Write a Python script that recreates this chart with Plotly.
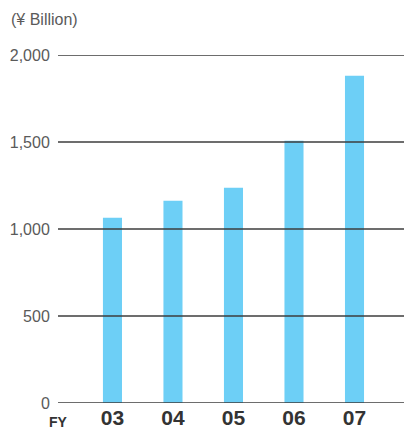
import plotly.graph_objects as go

# Fiscal years and values (¥ billion)
years = ["03", "04", "05", "06", "07"]
values = [1065, 1163, 1237, 1507, 1881]
y_ticks = [0, 500, 1000, 1500, 2000]
y_tick_labels = ["0", "500", "1,000", "1,500", "2,000"]

W, H = 404, 431
left, right, top, bottom = 58, 0, 55, 28

fig = go.Figure()
fig.add_trace(go.Bar(
    x=list(range(len(years))),
    y=values,
    width=0.315,
    marker=dict(color="#6dcff6", line=dict(width=0)),
    hoverinfo="skip",
))

# horizontal rules drawn above the bars, one per y tick
for v in y_ticks:
    fig.add_shape(type="line", xref="paper", yref="y", x0=0, x1=1, y0=v, y1=v,
                  line=dict(color="#3c3c3c", width=1.3), layer="above")

fig.update_layout(
    width=W, height=H,
    margin=dict(l=left, r=right, t=top, b=bottom, pad=0, autoexpand=False),
    paper_bgcolor="white", plot_bgcolor="white",
    showlegend=False,
    xaxis=dict(
        range=[-0.9, 4.818],
        tickmode="array",
        tickvals=list(range(len(years))),
        ticktext=years,
        tickfont=dict(family="Liberation Sans, Arial, sans-serif", size=21,
                      color="#333333", weight="bold"),
        showgrid=False, zeroline=False, showline=False,
        ticks="",
        automargin=False,
        fixedrange=True,
    ),
    yaxis=dict(
        range=[0, 2000],
        tickmode="array",
        tickvals=y_ticks,
        ticktext=y_tick_labels,
        tickfont=dict(family="Liberation Sans, Arial, sans-serif", size=16, color="#5a5a5a"),
        showgrid=False, zeroline=False, showline=False,
        ticks="outside", ticklen=4, tickcolor="rgba(0,0,0,0)",
        automargin=False,
        fixedrange=True,
    ),
    annotations=[
        dict(text="(¥ Billion)", xref="paper", yref="paper",
             x=(9 - left) / (W - left - right), y=1 + 35 / (H - top - bottom),
             xanchor="left", yanchor="middle", showarrow=False,
             font=dict(family="Liberation Sans, Arial, sans-serif", size=16, color="#5a5a5a")),
        dict(text="<b>FY</b>", xref="paper", yref="paper",
             x=0, y=-19 / (H - top - bottom),
             xanchor="center", yanchor="middle", showarrow=False,
             font=dict(family="Liberation Sans, Arial, sans-serif", size=14, color="#333333")),
    ],
)

fig.write_html("out.html")
